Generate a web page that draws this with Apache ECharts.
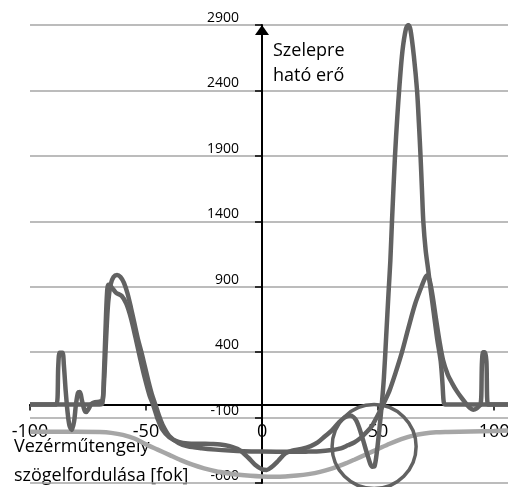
<!DOCTYPE html>
<html><head><meta charset="utf-8">
<script src="https://cdn.jsdelivr.net/npm/echarts@6/dist/echarts.min.js"></script>
<style>html,body{margin:0;padding:0;background:#fff}#c{width:508px;height:487px}</style>
</head><body><div id="c"></div>
<script>
const xTicks = [-100, -50, 0, 50, 100];
const yTicks = [-600, -100, 400, 900, 1400, 1900, 2400, 2900];

const spikyForce = [
  [-100,0],[-92,0],[-88.6,0],[-87.8,300],[-87.2,395],[-86.0,395],[-85.4,300],[-84.6,100],[-83.8,-60],[-83,-160],[-82,-195],[-81,-130],
  [-80.2,0],[-79.3,90],[-78.5,95],[-77.6,30],[-76.6,-40],[-75.8,-58],[-74.8,-35],[-73.5,5],[-72,18],[-70,22],[-68.7,35],
  [-68.2,200],[-67.5,550],[-66.8,850],[-66.2,915],[-65,900],[-63,855],[-60.5,830],[-58.5,770],[-56.5,660],[-54.5,510],
  [-52.5,350],[-50.5,200],[-48.5,70],[-47,0],[-45,-110],[-43,-190],[-40,-250],[-36,-285],[-32,-298],[-27,-300],[-22,-302],
  [-18,-305],[-14,-318],[-10,-345],[-6,-405],[-3,-460],[0,-495],[2,-500],[4,-480],[7,-430],[10,-375],[13,-352],[17,-340],
  [21,-318],[24,-290],[27,-245],[30,-200],[33,-140],[35.5,-100],[38,-85],[40.5,-120],[43,-240],[45.5,-390],[47.5,-475],
  [48.5,-470],[49.5,-360],[50.5,-200],[51.5,-20],[52.5,200],[53.5,520],[54.5,850],[55.3,1100],[56,1400],[57.3,1900],
  [58.3,2200],[59.2,2430],[60.5,2700],[62,2870],[63,2900],[64,2860],[65.5,2650],[66.8,2400],[67.6,2150],[68.3,1900],
  [68.9,1650],[69.5,1400],[70.5,1180],[71.6,1030],[72.5,900],[74,700],[75.5,500],[77,330],[77.8,150],[78.3,20],[79,0],
  [94,0],[94.8,330],[95.3,400],[96.1,400],[96.7,330],[97.4,0],[106,0]
];

const smoothForce = [
  [-100,0],[-70,0],[-68.8,10],[-68,200],[-67.2,500],[-66.3,780],[-65.2,920],[-64,975],[-62.5,990],[-61,975],[-59.5,930],
  [-58,850],[-56.5,740],[-55,620],[-53.5,500],[-52,400],[-50.5,290],[-49,180],[-47.5,80],[-46,0],[-44.5,-80],[-43,-150],
  [-40,-240],[-36,-295],[-32,-320],[-26,-335],[-20,-345],[-14,-352],[-8,-357],[0,-360],[10,-362],[20,-360],[25,-358],
  [30,-348],[34,-335],[37,-312],[39.7,-290],[42.5,-255],[45.3,-207],[47.5,-160],[49.6,-92],[51,-45],[52.6,15],[55,110],
  [57.5,240],[60.3,400],[63,580],[66,770],[68.7,900],[70.2,965],[71.1,985],[72.2,950],[73.5,830],[75,650],[76.5,480],
  [78,340],[80,230],[82,160],[84,100],[86,50],[88,5],[89.5,-25],[91,-40],[92.5,-30],[94,-5],[95,0],[106,0]
];

const camCurve = [
  [-100,-208],[-80,-208],[-70,-211],[-65,-217],[-60,-232],[-55,-260],[-50,-305],[-45,-345],[-40,-385],[-35,-425],
  [-30,-460],[-25,-488],[-20,-510],[-15,-525],[-10,-537],[-5,-545],[0,-550],[5,-552],[10,-550],[15,-543],[20,-532],
  [25,-515],[30,-490],[35,-458],[40,-420],[45,-380],[50,-340],[55,-300],[60,-265],[65,-238],[70,-222],[75,-213],
  [80,-210],[90,-206],[100,-202],[106,-198]
];

const circleMark = [[48.3, -322]];

const DARK = '#626262', LIGHT = '#a6a6a6';
const FONT = '"Open Sans", "Noto Sans", sans-serif';

const chart = echarts.init(document.getElementById('c'), null, {renderer: 'canvas'});
chart.setOption({
  animation: false,
  backgroundColor: '#fff',
  grid: {left: 30, right: 0, top: 25, bottom: 4, containLabel: false, outerBoundsMode: 'none'},
  xAxis: {
    type: 'value', min: -100, max: 106, position: 'bottom', offset: -78.5,
    axisLine: {onZero: false, lineStyle: {color: '#000', width: 2}},
    axisTick: {show: true, length: 6, inside: false, customValues: xTicks, lineStyle: {color: '#000', width: 1.5}},
    axisLabel: {customValues: xTicks, margin: 18, fontSize: 18, color: '#000', fontFamily: FONT},
    splitLine: {show: false}
  },
  yAxis: {
    type: 'value', min: -600, max: 2900, interval: 500, position: 'left', offset: -232,
    axisLine: {onZero: false, lineStyle: {color: '#000', width: 2}, symbol: ['none', 'triangle'], symbolSize: [14, 10], symbolOffset: [0, -5]},
    axisTick: {show: true, length: 7, lineStyle: {color: '#000', width: 1.5}},
    axisLabel: {margin: 23, fontSize: 14, color: '#000', fontFamily: FONT, verticalAlign: 'bottom', lineHeight: 14,
                formatter: v => String(v)},
    splitLine: {show: true, lineStyle: {color: '#a6a6a6', width: 1.5}}
  },
  graphic: [
    {type: 'text', left: 273, top: 38, style: {text: 'Szelepre\nható erő', font: '18px ' + FONT, fill: '#000', lineHeight: 25}},
    {type: 'text', x: 14, y: 447, style: {text: 'Vezérműtengely', font: '18px ' + FONT, fill: '#000', verticalAlign: 'middle'}},
    {type: 'text', x: 14, y: 476, style: {text: 'szögelfordulása [fok]', font: '18px ' + FONT, fill: '#000', verticalAlign: 'middle'}}
  ],
  series: [
    {type: 'line', data: camCurve, symbol: 'none', smooth: 0.3, lineStyle: {color: LIGHT, width: 4.5}},
    {type: 'line', data: smoothForce, symbol: 'none', smooth: 0.3, lineStyle: {color: DARK, width: 4.5}},
    {type: 'line', data: spikyForce, symbol: 'none', smooth: 0.3, lineStyle: {color: DARK, width: 4.5}},
    {type: 'scatter', data: circleMark, symbol: 'circle', symbolSize: 84, clip: false,
     itemStyle: {color: 'rgba(0,0,0,0)', borderColor: DARK, borderWidth: 3.5, opacity: 1}, z: 5}
  ]
});
</script>
</body></html>
